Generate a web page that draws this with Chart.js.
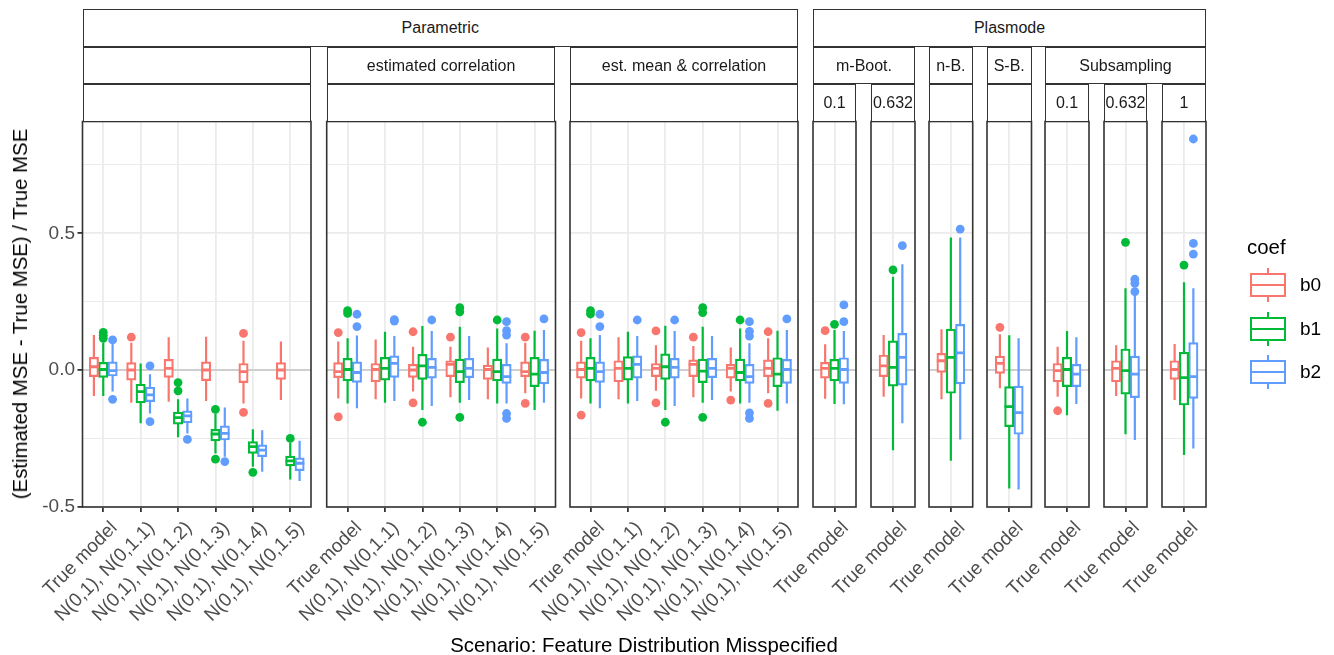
<!DOCTYPE html>
<html lang="en">
<head>
<meta charset="utf-8">
<title>Relative MSE error by scenario</title>
<script src="https://cdn.jsdelivr.net/npm/chart.js@4.4.1/dist/chart.umd.min.js"></script>
<style>
  html, body { margin: 0; padding: 0; background: #fff; }
  #figure { position: relative; width: 1334px; height: 655px; overflow: hidden;
            font-family: "Liberation Sans", Arial, Helvetica, sans-serif; }
  #figure canvas { position: absolute; left: 0; top: 0; }
  .strip { position: absolute; box-sizing: border-box; border: 1.5px solid #333; background: #fff;
           display: flex; align-items: center; justify-content: center;
           font-size: 16px; color: #1a1a1a; white-space: nowrap; }
  .title { position: absolute; font-size: 20.4px; color: #000; white-space: nowrap; line-height: 24px; }
  .legend-label { position: absolute; font-size: 19px; color: #000; line-height: 22px; }
</style>
</head>
<body>
<div id="figure"></div>
<script>
// ---- categories & labels ----
const coefNames = ['b0', 'b1', 'b2'];
const coefColors = ['#F8766D', '#00BA38', '#619CFF'];
const paramScenarios = ['True model', 'N(0,1), N(0,1.1)', 'N(0,1), N(0,1.2)', 'N(0,1), N(0,1.3)', 'N(0,1), N(0,1.4)', 'N(0,1), N(0,1.5)'];
const plasmodeScenarios = ['True model'];
const yTickValues = [-0.5, -0.25, 0, 0.25, 0.5, 0.75];
const groupStrips = ['Parametric', 'Plasmode'];
const methodStrips = ['', 'estimated correlation', 'est. mean & correlation', 'm-Boot.', 'n-B.', 'S-B.', 'Subsampling'];
const ratioStrips = ['', '', '', '0.1', '0.632', '', '', '0.1', '0.632', '1'];

// ---- box statistics: [lower whisker, Q1, median, Q3, upper whisker] ----
// Parametric, no adjustment (one row per scenario)
const parNone_b0 = [[-0.095, -0.024, 0.012, 0.046, 0.128], [-0.12, -0.037, 0.0, 0.027, 0.1], [-0.116, -0.027, 0.006, 0.039, 0.12],
                    [-0.113, -0.039, 0.0, 0.03, 0.122], [-0.122, -0.046, -0.006, 0.024, 0.107], [-0.11, -0.034, 0.0, 0.027, 0.104]];
const parNone_b1 = [[-0.095, -0.027, 0.002, 0.028, 0.1], [-0.195, -0.12, -0.079, -0.052, 0.024], [-0.246, -0.198, -0.174, -0.154, -0.107],
                    [-0.305, -0.259, -0.234, -0.217, -0.159], [-0.354, -0.305, -0.28, -0.262, -0.217], [-0.4, -0.351, -0.332, -0.315, -0.266]];
const parNone_b2 = [[-0.079, -0.022, -0.002, 0.03, 0.095], [-0.159, -0.116, -0.091, -0.063, -0.015], [-0.232, -0.193, -0.168, -0.149, -0.104],
                    [-0.317, -0.256, -0.232, -0.204, -0.137], [-0.372, -0.317, -0.293, -0.274, -0.22], [-0.406, -0.368, -0.341, -0.321, -0.259]];
const parNone_out_b0 = [[], [0.12], [], [], [0.134, -0.155], []];
const parNone_out_b1 = [[0.138, 0.127, 0.116], [], [-0.046, -0.076], [-0.144, -0.326], [-0.374], [-0.25]];
const parNone_out_b2 = [[0.11, -0.107], [0.015, -0.189], [-0.254], [-0.335], [], []];

// Parametric, estimated correlation
const parCor_b0 = [[-0.104, -0.028, -0.006, 0.027, 0.104], [-0.107, -0.043, 0.002, 0.024, 0.112], [-0.079, -0.027, 0.0, 0.021, 0.085],
                   [-0.1, -0.024, 0.021, 0.034, 0.085], [-0.107, -0.034, 0.002, 0.018, 0.082], [-0.085, -0.024, -0.006, 0.03, 0.1]];
const parCor_b1 = [[-0.122, -0.04, 0.002, 0.043, 0.116], [-0.12, -0.037, 0.006, 0.046, 0.14], [-0.146, -0.034, 0.015, 0.057, 0.161],
                   [-0.12, -0.046, -0.006, 0.04, 0.158], [-0.122, -0.04, -0.006, 0.04, 0.152], [-0.146, -0.061, -0.015, 0.046, 0.144]];
const parCor_b2 = [[-0.14, -0.045, -0.009, 0.03, 0.126], [-0.113, -0.027, 0.024, 0.052, 0.124], [-0.132, -0.03, 0.01, 0.043, 0.143],
                   [-0.11, -0.028, 0.006, 0.043, 0.124], [-0.122, -0.049, -0.024, 0.021, 0.098], [-0.12, -0.051, -0.009, 0.039, 0.146]];
const parCor_out_b0 = [[0.137, -0.171], [], [0.14, -0.12], [0.12], [], [0.12, -0.122]];
const parCor_out_b1 = [[0.217, 0.207], [], [-0.191], [0.228, 0.213, -0.173], [0.183], []];
const parCor_out_b2 = [[0.204, 0.159], [0.184, 0.179], [0.183], [], [0.177, 0.144, 0.128, -0.159, -0.177], [0.187]];

// Parametric, estimated mean & correlation
const parMeanCor_b0 = [[-0.104, -0.03, 0.002, 0.03, 0.107], [-0.107, -0.043, 0.006, 0.034, 0.12], [-0.076, -0.024, 0.006, 0.024, 0.091],
                       [-0.1, -0.024, 0.021, 0.037, 0.088], [-0.079, -0.03, 0.006, 0.021, 0.082], [-0.085, -0.024, 0.006, 0.037, 0.116]];
const parMeanCor_b1 = [[-0.122, -0.04, 0.006, 0.046, 0.116], [-0.122, -0.037, 0.006, 0.049, 0.14], [-0.146, -0.034, 0.012, 0.059, 0.162],
                       [-0.12, -0.046, -0.004, 0.04, 0.158], [-0.122, -0.04, -0.009, 0.04, 0.152], [-0.149, -0.061, -0.015, 0.045, 0.144]];
const parMeanCor_b2 = [[-0.14, -0.045, -0.006, 0.03, 0.128], [-0.113, -0.03, 0.021, 0.052, 0.124], [-0.132, -0.03, 0.01, 0.043, 0.143],
                       [-0.11, -0.028, 0.006, 0.043, 0.124], [-0.12, -0.049, -0.024, 0.021, 0.098], [-0.122, -0.049, 0.002, 0.039, 0.146]];
const parMeanCor_out_b0 = [[0.137, -0.165], [], [0.143, -0.12], [0.12], [-0.11], [0.14, -0.122]];
const parMeanCor_out_b1 = [[0.217, 0.205], [], [-0.191], [0.228, 0.21, -0.173], [0.183], []];
const parMeanCor_out_b2 = [[0.204, 0.159], [0.183], [0.183], [], [0.177, 0.141, 0.124, -0.157, -0.177], [0.187]];

// Plasmode (one row per panel): m-Boot. 0.1, m-Boot. 0.632, n-B., S-B., Subsampling 0.1, 0.632, 1
const plas_b0 = [[-0.105, -0.03, 0.006, 0.028, 0.094], [-0.098, -0.024, 0.015, 0.055, 0.128], [-0.107, -0.009, 0.034, 0.061, 0.149],
                 [-0.067, -0.012, 0.024, 0.051, 0.131], [-0.098, -0.043, -0.002, 0.024, 0.085], [-0.095, -0.043, 0.006, 0.034, 0.091],
                 [-0.11, -0.034, 0.002, 0.034, 0.095]];
const plas_b1 = [[-0.124, -0.04, 0.006, 0.039, 0.146], [-0.293, -0.059, 0.01, 0.107, 0.341], [-0.332, -0.085, 0.046, 0.15, 0.485],
                 [-0.433, -0.207, -0.134, -0.061, 0.127], [-0.165, -0.061, 0.002, 0.046, 0.143], [-0.235, -0.088, -0.002, 0.077, 0.299],
                 [-0.311, -0.128, -0.028, 0.065, 0.321]];
const plas_b2 = [[-0.125, -0.049, 0.002, 0.045, 0.143], [-0.195, -0.055, 0.046, 0.134, 0.387], [-0.254, -0.051, 0.063, 0.167, 0.485],
                 [-0.437, -0.235, -0.156, -0.059, 0.116], [-0.124, -0.061, -0.015, 0.021, 0.12], [-0.256, -0.101, -0.015, 0.051, 0.28],
                 [-0.287, -0.104, -0.024, 0.1, 0.299]];
const plas_out_b0 = [[0.144], [], [], [0.156], [-0.149], [], []];
const plas_out_b1 = [[0.167], [0.366], [], [], [], [0.467], [0.384]];
const plas_out_b2 = [[0.238, 0.177], [0.455], [0.515], [], [], [0.332, 0.317, 0.287], [0.845, 0.463, 0.424]];

// ---- page geometry ----
const W = 1334, H = 655;
const PANEL_TOP = 121.5, PANEL_BOTTOM = 507;
const Y_MIN = -0.501, Y_MAX = 0.909;
const STEP_PX = 37.4;            // width of one discrete x step
const X_AXIS_H = 125, Y_AXIS_W = 70;
const TICK_FONT = 19;
const FONT = '"Liberation Sans", Arial, Helvetica, sans-serif';
const panelX = [[82.5, 311], [326.7, 555.5], [570, 798], [813, 856], [871, 915],
                [929, 972.7], [987, 1031.5], [1045, 1089], [1104, 1147], [1162, 1206]];
const groupSpan = [[0, 2], [3, 9]];
const methodSpan = [[0, 0], [1, 1], [2, 2], [3, 4], [5, 5], [6, 6], [7, 9]];
const stripRows = [[9, 47], [47, 84], [84, 121.5]];
const legendRowY = [285, 328.5, 372];

// ---- panel definitions ----
const panelData = [
  { labels: paramScenarios, stats: [parNone_b0, parNone_b1, parNone_b2], outliers: [parNone_out_b0, parNone_out_b1, parNone_out_b2] },
  { labels: paramScenarios, stats: [parCor_b0, parCor_b1, parCor_b2], outliers: [parCor_out_b0, parCor_out_b1, parCor_out_b2] },
  { labels: paramScenarios, stats: [parMeanCor_b0, parMeanCor_b1, parMeanCor_b2], outliers: [parMeanCor_out_b0, parMeanCor_out_b1, parMeanCor_out_b2] }
];
plas_b0.forEach((_, j) => panelData.push({
  labels: plasmodeScenarios,
  stats: [[plas_b0[j]], [plas_b1[j]], [plas_b2[j]]],
  outliers: [[plas_out_b0[j]], [plas_out_b1[j]], [plas_out_b2[j]]]
}));

const isMajor = v => Math.abs(v * 2 - Math.round(v * 2)) < 1e-9;

// frame drawn around each panel's plotting area
const panelFrame = {
  id: 'panelFrame',
  afterDraw(chart) {
    const a = chart.chartArea, c = chart.ctx;
    c.save();
    c.strokeStyle = '#333333';
    c.lineWidth = 1.6;
    c.strokeRect(a.left, a.top, a.right - a.left, a.bottom - a.top);
    c.restore();
  }
};

const fig = document.getElementById('figure');

function buildPanel(idx) {
  const p = panelData[idx];
  const [x0, x1] = panelX[idx];
  const n = p.labels.length;
  const pad = ((x1 - x0) / STEP_PX - (n - 1)) / 2;
  const xMin = 1 - pad, xMax = n + pad;
  const stepPx = (x1 - x0) / (xMax - xMin);
  const showY = idx === 0;

  const datasets = [{
    type: 'line', data: [{ x: xMin, y: 0 }, { x: xMax, y: 0 }],
    borderColor: '#c4c4c4', borderWidth: 1.7, pointRadius: 0, order: 6
  }];

  coefNames.forEach((name, k) => {
    const color = coefColors[k];
    const shift = (k - 1) * 0.25;        // dodge: three boxes share 0.75 of a step
    const whiskers = [], medians = [], points = [];
    p.stats[k].forEach((s, i) => {
      const x = i + 1 + shift;
      whiskers.push({ x, y: s[0] }, { x, y: s[4] }, { x, y: null });
      medians.push({ x: x - 0.125, y: s[2] }, { x: x + 0.125, y: s[2] }, { x, y: null });
      p.outliers[k][i].forEach(v => points.push({ x, y: v }));
    });
    datasets.push({ type: 'line', label: name, data: whiskers, borderColor: color, borderWidth: 2.2,
                    pointRadius: 0, spanGaps: false, order: 5 });
    datasets.push({ type: 'bar', label: name, data: p.stats[k].map((s, i) => ({ x: i + 1, y: [s[1], s[3]] })),
                    backgroundColor: '#ffffff', borderColor: color, borderWidth: 2.2, borderSkipped: false,
                    barThickness: 0.25 * stepPx, order: 4 });
    datasets.push({ type: 'line', label: name, data: medians, borderColor: color, borderWidth: 2.8,
                    pointRadius: 0, spanGaps: false, order: 3 });
    datasets.push({ type: 'scatter', label: name, data: points, backgroundColor: color, borderWidth: 0,
                    pointRadius: 4.4, order: 2 });
  });

  const canvas = document.createElement('canvas');
  canvas.width = W; canvas.height = H;
  fig.appendChild(canvas);

  new Chart(canvas, {
    type: 'bar',
    data: { datasets },
    plugins: [panelFrame],
    options: {
      responsive: false, animation: false, events: [], devicePixelRatio: 1,
      layout: { padding: { left: x0 - (showY ? Y_AXIS_W : 0), right: W - x1, top: PANEL_TOP,
                           bottom: H - PANEL_BOTTOM - X_AXIS_H } },
      plugins: { legend: { display: false }, tooltip: { enabled: false } },
      scales: {
        x: {
          type: 'linear', min: xMin, max: xMax, bounds: 'data', offset: false,
          afterBuildTicks: s => { s.ticks = p.labels.map((_, i) => ({ value: i + 1 })); },
          afterFit: s => { s.height = X_AXIS_H; s.paddingLeft = 0; s.paddingRight = 0; },
          grid: { offset: false, color: '#ebebeb', lineWidth: 1.8, drawTicks: true,
                  tickColor: '#333333', tickWidth: 1.8, tickLength: 5 },
          border: { display: false },
          ticks: { autoSkip: false, minRotation: 45, maxRotation: 45, padding: 5,
                   labelOffset: TICK_FONT * 1.2 / 2 * Math.SQRT1_2 + 3,
                   color: '#4d4d4d', font: { family: FONT, size: TICK_FONT },
                   callback: v => p.labels[Math.round(v) - 1] }
        },
        y: {
          type: 'linear', min: Y_MIN, max: Y_MAX, bounds: 'data', beginAtZero: false,
          afterBuildTicks: s => { s.ticks = yTickValues.map(v => ({ value: v })); },
          afterFit: s => { s.width = showY ? Y_AXIS_W : 0; s.paddingTop = 0; s.paddingBottom = 0; },
          grid: { color: '#ebebeb',
                  lineWidth: c => (c.tick && isMajor(c.tick.value)) ? 1.8 : 1,
                  drawTicks: showY, tickLength: 5, tickWidth: 1.8,
                  tickColor: c => (c.tick && isMajor(c.tick.value)) ? '#333333' : 'rgba(0,0,0,0)' },
          border: { display: false },
          ticks: { display: showY, padding: 2.5, color: '#4d4d4d', font: { family: FONT, size: TICK_FONT },
                   callback: v => isMajor(v) ? v.toFixed(1) : '' }
        }
      }
    }
  });
}

panelData.forEach((_, i) => buildPanel(i));

// ---- facet strips ----
function addStrip(text, left, right, row) {
  const d = document.createElement('div');
  d.className = 'strip';
  d.style.left = left + 'px';
  d.style.width = (right - left) + 'px';
  d.style.top = stripRows[row][0] + 'px';
  d.style.height = (stripRows[row][1] - stripRows[row][0]) + 'px';
  d.textContent = text;
  fig.appendChild(d);
}
groupStrips.forEach((t, i) => addStrip(t, panelX[groupSpan[i][0]][0], panelX[groupSpan[i][1]][1], 0));
methodStrips.forEach((t, i) => addStrip(t, panelX[methodSpan[i][0]][0], panelX[methodSpan[i][1]][1], 1));
ratioStrips.forEach((t, i) => addStrip(t, panelX[i][0], panelX[i][1], 2));

// ---- axis titles ----
function addTitle(text, cx, cy, rotate) {
  const d = document.createElement('div');
  d.className = 'title';
  d.textContent = text;
  d.style.left = cx + 'px';
  d.style.top = cy + 'px';
  d.style.transform = 'translate(-50%, -50%)' + (rotate ? ' rotate(-90deg)' : '');
  fig.appendChild(d);
}
addTitle('(Estimated MSE - True MSE) / True MSE', 20, 314, true);
addTitle('Scenario: Feature Distribution Misspecified', 644, 645, false);

// ---- legend ----
const legTitle = document.createElement('div');
legTitle.className = 'title';
legTitle.textContent = 'coef';
legTitle.style.left = '1247px';
legTitle.style.top = '235px';
fig.appendChild(legTitle);

coefNames.forEach((name, k) => {
  const cy = legendRowY[k], col = coefColors[k];
  const key = document.createElementNS('http://www.w3.org/2000/svg', 'svg');
  key.setAttribute('width', '40'); key.setAttribute('height', '40');
  key.style.position = 'absolute';
  key.style.left = '1248px';
  key.style.top = (cy - 20) + 'px';
  key.innerHTML =
    `<line x1="20" y1="3" x2="20" y2="37" stroke="${col}" stroke-width="2"/>` +
    `<rect x="3" y="9" width="34" height="22" fill="#fff" stroke="${col}" stroke-width="2"/>` +
    `<line x1="3" y1="20" x2="37" y2="20" stroke="${col}" stroke-width="2"/>`;
  fig.appendChild(key);
  const lab = document.createElement('div');
  lab.className = 'legend-label';
  lab.textContent = name;
  lab.style.left = '1300px';
  lab.style.top = (cy - 11) + 'px';
  fig.appendChild(lab);
});
</script>
</body>
</html>
